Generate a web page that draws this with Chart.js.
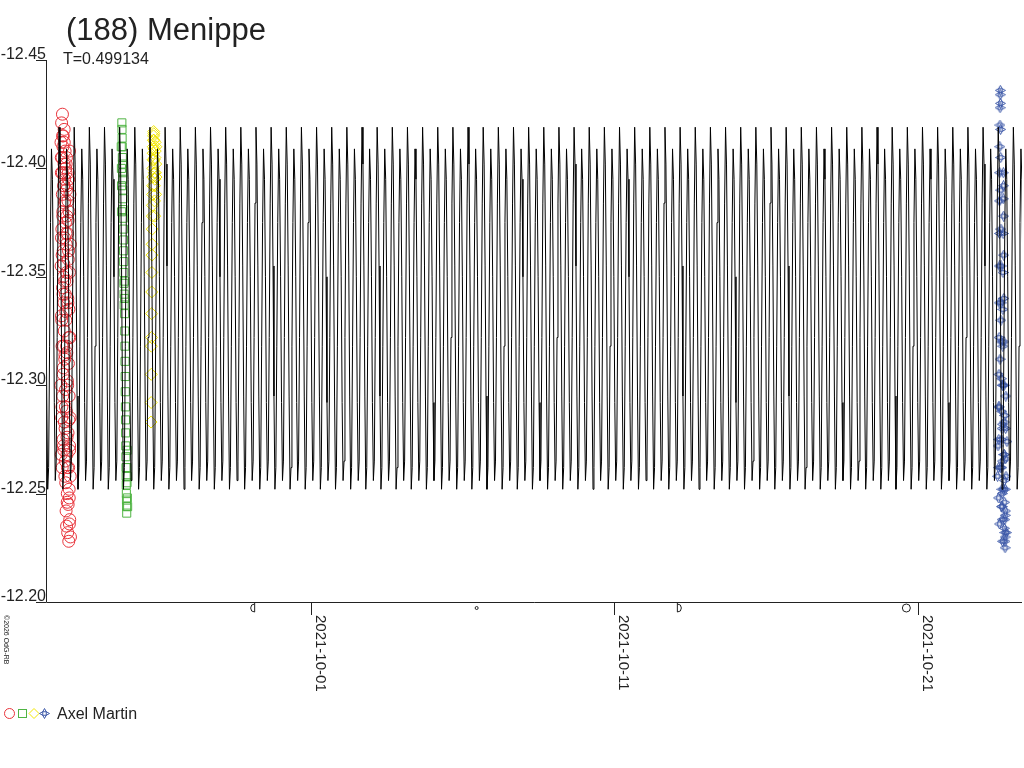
<!DOCTYPE html>
<html>
<head>
<meta charset="utf-8">
<script src="https://cdn.jsdelivr.net/npm/chart.js@4/dist/chart.umd.min.js"></script>
<style>
html,body{margin:0;padding:0;background:#fff;}
#wrap{width:1024px;height:768px;position:relative;}
canvas{display:block;}
</style>
</head>
<body>
<div id="wrap"><canvas id="c" width="1024" height="768"></canvas></div>
<script>
// ---- text ----
const titleText = "(188) Menippe";
const periodLabel = "T=0.499134";
const observerName = "Axel Martin";
const copyrightText = "\u00A92026 OdG-RB";

// ---- axes (x in days relative to 2021-10-01 00:00 UT) ----
const xMin = -8.73, xMax = 23.43;
const xTickValues = [0, 10, 20];
const xTickLabels = ["2021-10-01", "2021-10-11", "2021-10-21"];
const yMin = -12.45, yMax = -12.20;
const yTickValues = [-12.45, -12.40, -12.35, -12.30, -12.25, -12.20];
const yTickLabels = ["-12.45", "-12.40", "-12.35", "-12.30", "-12.25", "-12.20"];

// moon phases (days rel. 2021-10-01): last quarter, new, first quarter, full
const moonT = [-1.92, 5.46, 12.14, 19.62];
const moonPhase = ["LQ", "NM", "FQ", "FM"];

// ---- lightcurve model: period and one-period shape (16 phase samples) ----
const periodDays = 0.499134;
const modelEpoch = -8.30;
const modelShape = [-12.419, -12.402, -12.355, -12.295, -12.252, -12.262, -12.318, -12.375,
                    -12.409, -12.395, -12.350, -12.292, -12.256, -12.265, -12.322, -12.384];

// ---- observations ----
// session 1: red circles
const redT = [-8.240,-8.236,-8.232,-8.228,-8.224,-8.220,-8.216,-8.212,-8.208,-8.204,-8.200,-8.196,-8.192,-8.188,-8.184,-8.180,-8.176,-8.172,-8.168,-8.164,
              -8.160,-8.156,-8.152,-8.148,-8.144,-8.140,-8.136,-8.132,-8.128,-8.124,-8.120,-8.116,-8.112,-8.108,-8.104,-8.100,-8.096,-8.092,-8.088,-8.084,
              -8.080,-8.076,-8.072,-8.068,-8.064,-8.060,-8.056,-8.052,-8.048,-8.044,-8.040,-8.036,-8.032,-8.028,-8.024,-8.020,-8.016,-8.012,-8.008,-8.004,
              -8.000,-7.996,-7.992,-7.988,-7.984,-7.980,-7.976,-7.972,-7.968,-7.964,-7.960,-7.956,-7.952,-7.948,-7.944,-7.940,-7.936,-7.932,-7.928,-7.924,
              -8.226,-8.219,-8.212,-8.205,-8.198,-8.191,-8.184,-8.177,-8.170,-8.163,-8.156,-8.149,-8.142,-8.135,-8.128,-8.121,-8.114,-8.107,-8.100,-8.093,
              -8.086,-8.079,-8.072,-8.065,-8.058,-8.051,-8.044,-8.037,-8.030,-8.023,-8.016,-8.009,-8.002,-7.995,-7.988,-7.981,-7.974,-7.967,-7.960,-7.953];
const redMag = [-12.300,-12.412,-12.355,-12.268,-12.398,-12.332,-12.421,-12.285,-12.372,-12.405,-12.318,-12.262,-12.388,-12.425,-12.345,-12.295,-12.380,-12.410,-12.275,-12.362,
                -12.415,-12.308,-12.350,-12.392,-12.270,-12.338,-12.402,-12.418,-12.325,-12.283,-12.368,-12.395,-12.312,-12.258,-12.385,-12.408,-12.342,-12.290,-12.375,-12.400,
                -12.255,-12.330,-12.398,-12.242,-12.365,-12.288,-12.405,-12.235,-12.318,-12.378,-12.268,-12.348,-12.392,-12.250,-12.302,-12.370,-12.232,-12.340,-12.385,-12.278,
                -12.245,-12.358,-12.310,-12.395,-12.262,-12.228,-12.335,-12.380,-12.295,-12.248,-12.352,-12.408,-12.272,-12.238,-12.322,-12.388,-12.285,-12.258,-12.365,-12.230,
                -12.405,-12.368,-12.330,-12.290,-12.360,-12.398,-12.415,-12.378,-12.342,-12.305,-12.272,-12.318,-12.356,-12.392,-12.412,-12.384,-12.348,-12.314,-12.280,-12.265,
                -12.298,-12.334,-12.370,-12.402,-12.390,-12.352,-12.315,-12.276,-12.246,-12.262,-12.300,-12.338,-12.376,-12.398,-12.362,-12.322,-12.284,-12.252,-12.236,-12.270];
// session 2: green squares
const greenT = [-6.230,-6.226,-6.222,-6.218,-6.214,-6.210,-6.206,-6.202,-6.198,-6.194,-6.190,-6.186,-6.182,-6.178,-6.174,-6.170,-6.166,-6.162,-6.158,-6.154,
                -6.146,-6.142,-6.138,-6.134,-6.130,-6.126,-6.122,-6.118,-6.114,-6.110,-6.106,-6.102,-6.098,-6.094,-6.090,-6.086,-6.082,-6.078,-6.074,-6.070,
                -6.250,-6.245,-6.240,-6.235,-6.065,-6.060,-6.055,-6.050,-6.045,-6.040];
const greenMag = [-12.421,-12.418,-12.414,-12.410,-12.405,-12.402,-12.398,-12.395,-12.390,-12.386,-12.381,-12.377,-12.372,-12.367,-12.362,-12.357,-12.352,-12.347,-12.342,-12.337,
                  -12.348,-12.340,-12.333,-12.325,-12.318,-12.311,-12.304,-12.297,-12.290,-12.284,-12.278,-12.272,-12.267,-12.262,-12.258,-12.254,-12.250,-12.247,-12.244,-12.241,
                  -12.410,-12.400,-12.392,-12.380,-12.262,-12.255,-12.270,-12.248,-12.258,-12.244];
// session 3: yellow diamonds
const yellowT = [-5.270,-5.266,-5.262,-5.258,-5.254,-5.250,-5.246,-5.242,-5.238,-5.234,-5.230,-5.226,-5.222,-5.218,-5.214,
                 -5.210,-5.206,-5.202,-5.198,-5.194,-5.190,-5.186,-5.182,-5.178,-5.174,-5.170,-5.166,-5.162,-5.158,-5.154,
                 -5.150,-5.145,-5.140,-5.135,-5.130,-5.125,-5.120,-5.115,-5.110,-5.105];
const yellowMag = [-12.283,-12.292,-12.305,-12.318,-12.322,-12.333,-12.343,-12.352,-12.360,-12.365,-12.372,-12.378,-12.383,-12.388,-12.392,
                   -12.396,-12.400,-12.404,-12.407,-12.410,-12.413,-12.415,-12.417,-12.416,-12.413,-12.409,-12.404,-12.398,-12.392,-12.385,
                   -12.378,-12.395,-12.405,-12.412,-12.408,-12.398,-12.388,-12.402,-12.410,-12.396];
// session 4: blue stars
const blueT = [22.660,22.664,22.668,22.672,22.676,22.680,22.684,22.688,22.692,22.696,22.700,22.704,22.708,22.712,22.716,
               22.720,22.724,22.728,22.732,22.736,22.740,22.744,22.748,22.752,22.756,22.760,22.764,22.768,22.772,22.776,
               22.780,22.784,22.788,22.792,22.796,22.800,22.804,22.808,22.812,22.816,22.820,22.824,22.828,22.832,22.836,
               22.840,22.844,22.848,22.852,22.856,22.860,22.864,22.868,22.872,22.876,22.880,22.884,22.888,22.892,22.896,
               22.625,22.641,22.657,22.673,22.690,22.706,22.722,22.738,22.755,22.771,22.787,22.803,22.820,22.836,22.852,
               22.868,22.885,22.901,22.917,22.933];
const blueMag = [-12.262,-12.275,-12.290,-12.305,-12.322,-12.338,-12.355,-12.370,-12.385,-12.398,-12.410,-12.420,-12.428,-12.434,-12.436,
                 -12.430,-12.418,-12.405,-12.390,-12.372,-12.355,-12.338,-12.320,-12.303,-12.288,-12.275,-12.262,-12.252,-12.244,-12.238,
                 -12.250,-12.265,-12.282,-12.300,-12.318,-12.335,-12.352,-12.370,-12.386,-12.398,-12.392,-12.378,-12.360,-12.340,-12.320,
                 -12.300,-12.283,-12.268,-12.256,-12.246,-12.238,-12.232,-12.228,-12.225,-12.230,-12.240,-12.252,-12.266,-12.280,-12.295,
                 -12.258,-12.272,-12.248,-12.290,-12.236,-12.312,-12.262,-12.330,-12.244,-12.280,-12.228,-12.300,-12.252,-12.268,-12.234,
                 -12.286,-12.242,-12.258,-12.232,-12.274];

// ---- colours ----
const cRed = "#e8333a", cGreen = "#4fb443", cYellow = "#f2e600", cBlue = "#3c58a8", cCurve = "#000000", cText = "#222";

// build the model curve by repeating the one-period shape
const curvePts = [];
{
  const k0 = Math.floor((xMin - modelEpoch) / periodDays) - 1;
  const k1 = Math.ceil((xMax - modelEpoch) / periodDays) + 1;
  for (let k = k0; k <= k1; k++) {
    for (let j = 0; j < modelShape.length; j++) {
      curvePts.push({x: modelEpoch + (k + j / modelShape.length) * periodDays, y: modelShape[j]});
    }
  }
}
const zip = (a, b) => a.map((v, i) => ({x: v, y: b[i]}));

// blue star point style
function starCanvas(size, color) {
  const cv = document.createElement("canvas");
  cv.width = size; cv.height = size;
  const g = cv.getContext("2d");
  const h = size / 2, r = h - 0.5, q = r * 0.35;
  g.strokeStyle = color; g.lineWidth = 1;
  g.beginPath();
  g.moveTo(h, h - r); g.lineTo(h + q, h - q); g.lineTo(h + r, h); g.lineTo(h + q, h + q);
  g.lineTo(h, h + r); g.lineTo(h - q, h + q); g.lineTo(h - r, h); g.lineTo(h - q, h - q); g.closePath();
  g.stroke();
  g.strokeRect(h - q, h - q, 2 * q, 2 * q);
  return cv;
}
const blueStar = starCanvas(11, cBlue);

const decor = {
  id: "decor",
  afterDraw(chart) {
    const ctx = chart.ctx, xs = chart.scales.x, ys = chart.scales.y, ca = chart.chartArea;
    ctx.save();
    ctx.fillStyle = cText; ctx.strokeStyle = cText; ctx.lineWidth = 1;
    // axes
    ctx.beginPath();
    ctx.moveTo(ca.left + 0.5, Math.round(ys.getPixelForValue(yMin))); ctx.lineTo(ca.left + 0.5, Math.round(ca.bottom) + 0.5);
    ctx.lineTo(ca.right, Math.round(ca.bottom) + 0.5);
    ctx.stroke();
    // title
    ctx.textBaseline = "alphabetic"; ctx.textAlign = "left";
    ctx.font = "31px 'Liberation Sans', Arial, sans-serif";
    ctx.fillText(titleText, 66, 40);
    ctx.font = "16px 'Liberation Sans', Arial, sans-serif";
    ctx.fillText(periodLabel, 63, 64);
    // y ticks
    ctx.font = "16px 'Liberation Sans', Arial, sans-serif";
    ctx.textAlign = "right";
    yTickValues.forEach((v, i) => {
      const y = Math.round(ys.getPixelForValue(v)) + 0.5;
      ctx.beginPath(); ctx.moveTo(ca.left - 10, y); ctx.lineTo(ca.left, y); ctx.stroke();
      ctx.fillText(yTickLabels[i], ca.left, y - 2);
    });
    // x ticks
    ctx.font = "15px 'Liberation Sans', Arial, sans-serif";
    xTickValues.forEach((v, i) => {
      const x = Math.round(xs.getPixelForValue(v)) + 0.5;
      ctx.beginPath(); ctx.moveTo(x, ca.bottom); ctx.lineTo(x, ca.bottom + 13); ctx.stroke();
      ctx.save();
      ctx.translate(x + 1, ca.bottom + 13);
      ctx.rotate(Math.PI / 2);
      ctx.textAlign = "left"; ctx.textBaseline = "bottom";
      ctx.fillText(xTickLabels[i], 0, 0);
      ctx.restore();
    });
    // moon phases
    moonT.forEach((t, i) => {
      const x = xs.getPixelForValue(t), y = ca.bottom + 6;
      ctx.beginPath();
      if (moonPhase[i] === "FM") { ctx.arc(x, y, 4, 0, 2 * Math.PI); }
      else if (moonPhase[i] === "NM") { ctx.arc(x, y, 1.5, 0, 2 * Math.PI); }
      else if (moonPhase[i] === "FQ") { ctx.moveTo(x - 2, y - 5); ctx.lineTo(x - 2, y + 4); ctx.arc(x - 2, y, 4, Math.PI / 2, -Math.PI / 2, true); }
      else { ctx.moveTo(x + 2, y - 5); ctx.lineTo(x + 2, y + 4); ctx.arc(x + 2, y, 4, Math.PI / 2, 3 * Math.PI / 2, false); }
      ctx.stroke();
    });
    // copyright
    ctx.save();
    ctx.font = "7px 'Liberation Sans', Arial, sans-serif";
    ctx.translate(2, 615); ctx.rotate(Math.PI / 2);
    ctx.textAlign = "left"; ctx.textBaseline = "bottom";
    ctx.fillText(copyrightText, 0, 0);
    ctx.restore();
    // legend
    const ly = 713.5;
    ctx.strokeStyle = cRed; ctx.beginPath(); ctx.arc(9.5, ly, 5, 0, 2 * Math.PI); ctx.stroke();
    ctx.strokeStyle = cGreen; ctx.strokeRect(18.5, ly - 4, 8, 8);
    ctx.strokeStyle = cYellow; ctx.beginPath();
    ctx.moveTo(34, ly - 5); ctx.lineTo(39, ly); ctx.lineTo(34, ly + 5); ctx.lineTo(29, ly); ctx.closePath(); ctx.stroke();
    ctx.drawImage(blueStar, 39, ly - 5.5);
    ctx.fillStyle = cText;
    ctx.font = "16px 'Liberation Sans', Arial, sans-serif";
    ctx.textAlign = "left"; ctx.textBaseline = "alphabetic";
    ctx.fillText(observerName, 57, 719);
    ctx.restore();
  }
};

new Chart(document.getElementById("c"), {
  type: "scatter",
  data: {
    datasets: [
      {label: "model", type: "line", data: curvePts, borderColor: cCurve, borderWidth: 1, pointRadius: 0, tension: 0, fill: false, order: 0},
      {label: "s1", data: zip(redT, redMag), pointStyle: "circle", pointRadius: 6, borderColor: cRed, backgroundColor: "rgba(0,0,0,0)", borderWidth: 1, order: 1},
      {label: "s2", data: zip(greenT, greenMag), pointStyle: "rect", pointRadius: 5.7, borderColor: cGreen, backgroundColor: "rgba(0,0,0,0)", borderWidth: 1, order: 1},
      {label: "s3", data: zip(yellowT, yellowMag), pointStyle: "rectRot", pointRadius: 6, borderColor: cYellow, backgroundColor: "rgba(0,0,0,0)", borderWidth: 1, order: 1},
      {label: "s4", data: zip(blueT, blueMag), pointStyle: blueStar, pointRadius: 5.5, borderColor: cBlue, backgroundColor: "rgba(0,0,0,0)", borderWidth: 1, order: 1}
    ]
  },
  options: {
    responsive: false, animation: false, devicePixelRatio: 1,
    layout: {autoPadding: false, padding: {left: 46, top: 60, right: 2, bottom: 166}},
    plugins: {legend: {display: false}, tooltip: {enabled: false}, title: {display: false}},
    scales: {
      x: {type: "linear", display: false, min: xMin, max: xMax, grid: {display: false}},
      y: {type: "linear", display: false, min: yMin, max: yMax, reverse: true, grid: {display: false}}
    }
  },
  plugins: [decor]
});
</script>
</body>
</html>
